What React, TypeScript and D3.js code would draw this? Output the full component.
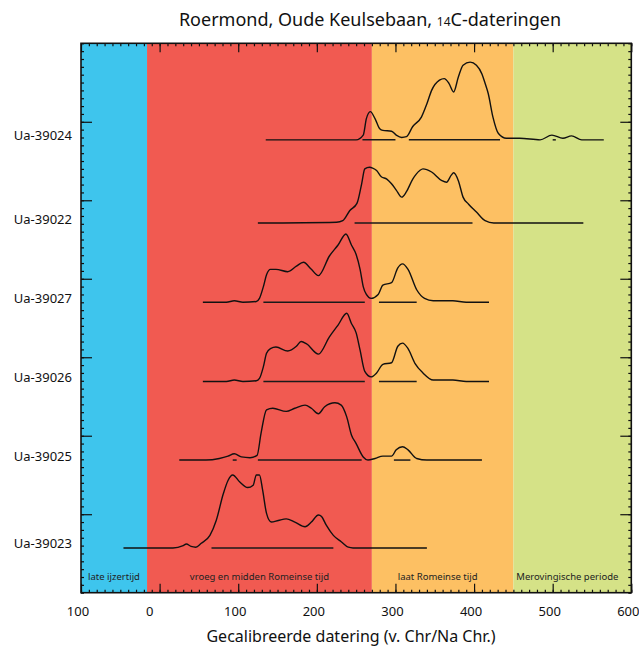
import React, { useEffect, useRef } from 'react';
import * as d3 from 'd3';

// samples, top to bottom
const samples = ['Ua-39024', 'Ua-39022', 'Ua-39027', 'Ua-39026', 'Ua-39025', 'Ua-39023'];
// y value of each sample's zero line (y axis runs 0..7)
const baselines = [5.77, 4.71, 3.7, 2.69, 1.69, 0.57];

// calibrated probability, [year, height in 1/100 of a y unit]
const ua39024 = [
  [135, 0], [250, 0], [259, 6], [263, 27], [268, 36], [274, 27], [280, 14], [284, 12], [295, 11], [301, 6],
  [308, 3], [314, 4], [322, 17], [333, 29], [340, 46], [346, 63], [356, 76], [362, 78], [368, 72], [374, 61],
  [380, 80], [386, 95], [395, 99], [403, 95], [410, 84], [414, 72], [418, 59], [424, 29], [431, 8], [441, 2],
  [458, 2], [484, 0], [499, 6], [513, 2], [524, 5], [537, 0], [565, 0],
];
const ua39022 = [
  [125, 0], [225, 1], [233, 3], [242, 16], [251, 25], [257, 50], [261, 69], [267, 71], [271, 70], [276, 67],
  [282, 59], [289, 56], [295, 50], [301, 42], [308, 33], [314, 40], [322, 56], [331, 67], [335, 69], [346, 65],
  [359, 54], [365, 52], [371, 61], [374, 64], [380, 54], [386, 33], [393, 24], [403, 14], [414, 3], [425, 0],
  [539, 0],
];
const ua39027 = [
  [55, 0], [85, 0], [95, 2], [106, 0], [123, 1], [127, 5], [132, 20], [136, 35], [141, 42], [148, 42],
  [163, 39], [174, 46], [183, 51], [193, 42], [202, 34], [216, 59], [227, 73], [237, 87], [244, 73], [250, 61],
  [255, 42], [259, 20], [263, 10], [269, 5], [278, 10], [284, 22], [295, 25], [303, 44], [309, 49], [316, 42],
  [327, 16], [337, 5], [348, 2], [373, 2], [390, 0], [419, 0],
];
const ua39026 = [
  [55, 0], [85, 0], [95, 2], [106, 0], [123, 1], [127, 4], [132, 19], [136, 36], [141, 42], [148, 44],
  [163, 39], [174, 45], [180, 51], [187, 48], [202, 35], [216, 57], [227, 72], [238, 87], [244, 74], [250, 62],
  [255, 40], [261, 13], [269, 6], [276, 11], [284, 22], [295, 24], [303, 45], [309, 49], [316, 42], [325, 23],
  [335, 11], [348, 2], [373, 2], [390, 0], [419, 0],
];
const ua39025 = [
  [25, 0], [59, 0], [76, 2], [87, 5], [95, 8], [104, 4], [115, 3], [124, 6], [129, 34], [136, 64],
  [144, 66], [161, 62], [172, 66], [185, 70], [193, 66], [202, 59], [210, 68], [223, 73], [231, 70], [238, 55],
  [244, 32], [250, 21], [259, 4], [265, 0], [274, 2], [284, 5], [295, 5], [301, 13], [309, 17], [316, 13],
  [327, 2], [340, 0], [410, 0],
];
const ua39023 = [
  [-46, 0], [17, 0], [30, 3], [34, 5], [40, 2], [46, 1], [53, 6], [64, 16], [72, 35], [81, 69],
  [87, 86], [93, 93], [102, 84], [112, 77], [119, 80], [123, 93], [127, 93], [131, 74], [136, 44], [142, 33],
  [151, 35], [161, 37], [172, 33], [185, 27], [193, 33], [202, 42], [206, 40], [212, 29], [221, 16], [231, 8],
  [240, 1], [246, 0], [340, 0],
];
const densities = [ua39024, ua39022, ua39027, ua39026, ua39025, ua39023];

// 95.4% ranges (years)
const ranges = [
  [[258, 300], [317, 433], [500, 504]],
  [[248, 398]],
  [[132, 261], [279, 327]],
  [[132, 261], [279, 327]],
  [[93, 98], [125, 257], [298, 319]],
  [[66, 221]],
];

// archaeological periods
const periodNames = ['late ijzertijd', 'vroeg en midden Romeinse tijd', 'laat Romeinse tijd', 'Merovingische periode'];
const periodStart = [-100, -16, 270, 450];
const periodEnd = [-16, 270, 450, 600];
const periodColors = ['#3ec5ed', '#f15a51', '#fdc063', '#d5e287'];

const xTicks = [-100, 0, 100, 200, 300, 400, 500, 600];
const xTickLabels = ['100', '0', '100', '200', '300', '400', '500', '600'];
const yTicks = [1, 2, 3, 4, 5, 6];

const FONT = '"Noto Sans", "Open Sans", sans-serif';

const App = () => {
  const svgRef = useRef<SVGSVGElement>(null);

  useEffect(() => {
    const root = d3.select(svgRef.current);
    root.selectAll('*').remove();

    const width = 639;
    const height = 648;
    const left = 81;
    const right = 631.3;
    const top = 43.3;
    const bottom = 592.7;

    const svg = root.attr('width', width).attr('height', height);

    const x = d3.scaleLinear().domain([-100, 600]).range([left, right]);
    const y = d3.scaleLinear().domain([0, 7]).range([bottom, top]);

    // period bands
    svg
      .selectAll('.band')
      .data(periodNames)
      .enter()
      .append('rect')
      .attr('x', (d, i) => x(periodStart[i]))
      .attr('y', top)
      .attr('width', (d, i) => x(periodEnd[i]) - x(periodStart[i]))
      .attr('height', bottom - top)
      .attr('fill', (d, i) => periodColors[i]);

    svg
      .selectAll('.period-label')
      .data(periodNames)
      .enter()
      .append('text')
      .attr('x', (d, i) => (x(periodStart[i]) + x(periodEnd[i])) / 2 - (i >= 2 ? 5 : 0))
      .attr('y', 579.5)
      .attr('text-anchor', 'middle')
      .style('font-family', FONT)
      .style('font-size', '9.5px')
      .attr('fill', '#222')
      .text((d) => d);

    // distributions
    const rows = svg.append('g');
    samples.forEach((s, i) => {
      const base = baselines[i];
      const line = d3
        .line<number[]>()
        .x((d) => x(d[0]))
        .y((d) => y(base + d[1] / 100))
        .curve(d3.curveMonotoneX);
      rows
        .append('path')
        .attr('d', line(densities[i]))
        .attr('fill', 'none')
        .attr('stroke', '#111')
        .attr('stroke-width', 1.4);
      rows
        .selectAll(null)
        .data(ranges[i])
        .enter()
        .append('line')
        .attr('x1', (d) => x(d[0]))
        .attr('x2', (d) => x(d[1]))
        .attr('y1', y(base))
        .attr('y2', y(base))
        .attr('stroke', '#1a1a1a')
        .attr('stroke-width', 1.5);
    });

    // inward ticks on all four sides
    const minorX = d3.range(-100, 601, 10);
    const minorY = d3.range(0, 7.001, 0.1);
    const addAxis = (axis, tx, ty) => {
      const g = svg.append('g').attr('transform', `translate(${tx},${ty})`).call(axis);
      g.select('.domain').remove();
      g.selectAll('line').attr('stroke', '#111').attr('stroke-width', 1.2);
      g.selectAll('text').remove();
    };
    addAxis(d3.axisBottom(x).tickValues(minorX).tickSize(-3), 0, bottom);
    addAxis(d3.axisBottom(x).tickValues(xTicks).tickSize(-9), 0, bottom);
    addAxis(d3.axisTop(x).tickValues(minorX).tickSize(-3), 0, top);
    addAxis(d3.axisTop(x).tickValues(xTicks).tickSize(-9), 0, top);
    addAxis(d3.axisLeft(y).tickValues(minorY).tickSize(-3), left, 0);
    addAxis(d3.axisLeft(y).tickValues(yTicks).tickSize(-11), left, 0);
    addAxis(d3.axisRight(y).tickValues(minorY).tickSize(-3), right, 0);
    addAxis(d3.axisRight(y).tickValues(yTicks).tickSize(-11), right, 0);

    // frame
    svg
      .append('rect')
      .attr('x', left)
      .attr('y', top)
      .attr('width', right - left)
      .attr('height', bottom - top)
      .attr('fill', 'none')
      .attr('stroke', '#111')
      .attr('stroke-width', 1.6);

    // x tick labels
    svg
      .selectAll('.x-label')
      .data(xTicks)
      .enter()
      .append('text')
      .attr('x', (d) => x(d) - (d === 0 ? 10 : 3))
      .attr('y', 616)
      .attr('text-anchor', 'middle')
      .style('font-family', FONT)
      .style('font-size', '13px')
      .attr('fill', '#111')
      .text((d, i) => xTickLabels[i]);

    // sample labels
    svg
      .selectAll('.y-label')
      .data(samples)
      .enter()
      .append('text')
      .attr('x', 72)
      .attr('y', (d, i) => y(baselines[i]) + 0.5)
      .attr('text-anchor', 'end')
      .style('font-family', FONT)
      .style('font-size', '13px')
      .attr('fill', '#111')
      .text((d) => d);

    // axis label
    svg
      .append('text')
      .attr('x', 351)
      .attr('y', 642)
      .attr('text-anchor', 'middle')
      .style('font-family', FONT)
      .style('font-size', '16px')
      .attr('fill', '#111')
      .text('Gecalibreerde datering (v. Chr/Na Chr.)');

    // title
    const title = svg
      .append('text')
      .attr('x', 370)
      .attr('y', 26)
      .attr('text-anchor', 'middle')
      .style('font-family', FONT)
      .style('font-size', '18px')
      .attr('fill', '#111');
    title.append('tspan').text('Roermond, Oude Keulsebaan, ');
    title.append('tspan').style('font-size', '12px').text('14');
    title.append('tspan').text('C-dateringen');
  }, []);

  return (
    <div style={{ position: 'absolute', left: 0, top: 0 }}>
      <svg ref={svgRef}></svg>
    </div>
  );
};

export default App;
